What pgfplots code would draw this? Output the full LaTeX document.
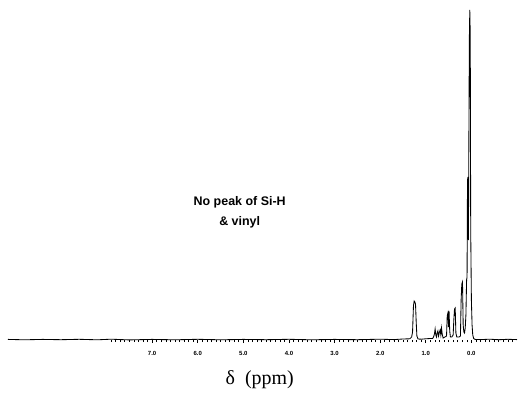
\documentclass[border=0pt]{standalone}
\usepackage{fontspec}
\setmainfont{Liberation Serif}
\setsansfont{Liberation Sans}
\usepackage{pgfplots}
\pgfplotsset{compat=1.18}
\begin{document}
\begin{tikzpicture}
\begin{axis}[
  at={(8bp,53bp)}, anchor=south west,
  scale only axis, width=509bp, height=335bp,
  x dir=reverse, xmin=-1.0, xmax=10.16, ymin=0, ymax=335,
  axis y line=none, axis x line*=bottom,
  x axis line style={draw=none},
  xtick={0,1,...,7},
  minor xtick={-0.9,-0.8,...,7.9},
  tick align=outside, major tick length=3bp, minor tick length=2bp,
  tick style={black, line width=0.6pt},
  xticklabel style={font=\sffamily\bfseries\fontsize{6}{6}\selectfont, yshift=-5bp},
  /pgf/number format/assume math mode=true,
  xticklabel={\pgfmathprintnumber[fixed,fixed zerofill,precision=1]{\tick}},
  clip=false,
]
\addplot[black, line width=0.85pt] coordinates {
(10.16,0.6) (9.8,0.2) (9.4,0.6) (9.0,0.3) (8.6,0.7) (8.2,0.2) (7.9,0.8) (7.5,0.1) (7.0,0.6)
(6.5,0.2) (6.0,0.7) (5.5,0.2) (5.0,0.6) (4.5,0.3) (4.0,0.7) (3.5,0.2) (3.0,0.6) (2.5,0.3)
(2.0,0.8) (1.7,0.4) (1.5,1.0) (1.35,1.2) (1.31,3) (1.29,8) (1.27,34) (1.255,39) (1.24,38)
(1.225,36) (1.21,18) (1.195,4) (1.17,1) (1.1,0.8) (1.0,1.2) (0.9,1.5)
(0.85,1.5) (0.83,3) (0.81,6) (0.795,11) (0.78,5) (0.765,3) (0.75,7) (0.735,9) (0.72,4)
(0.70,8) (0.685,10) (0.67,5) (0.655,12) (0.64,6) (0.62,2) (0.58,3) (0.545,4) (0.53,24)
(0.515,27) (0.50,13) (0.49,29) (0.475,9) (0.46,3) (0.43,3) (0.40,5) (0.385,20) (0.37,31)
(0.355,32) (0.34,7) (0.32,3) (0.27,3) (0.24,4) (0.225,40) (0.21,56) (0.195,58) (0.18,15)
(0.165,8) (0.15,7) (0.135,12) (0.12,25) (0.105,60) (0.095,63) (0.085,160) (0.075,163)
(0.065,100) (0.055,200) (0.045,300) (0.035,330) (0.025,305) (0.015,110) (0.0,40)
(-0.015,15) (-0.03,5) (-0.05,1.5) (-0.08,0.6)
(-0.2,0.4) (-0.4,0.8) (-0.6,0.3) (-0.8,0.7) (-1.0,0.4)
};
\node[font=\sffamily\bfseries\fontsize{12.5}{20}\selectfont, align=center]
  at (axis cs:5.08,128) {No peak of Si-H\\\& vinyl};
\node[font=\fontsize{20}{22}\selectfont] at (axis cs:4.64,-40) {δ\ \ (ppm)};
\end{axis}
\pgfresetboundingbox
\useasboundingbox (0,0) rectangle (518bp,393bp);
\end{tikzpicture}
\end{document}
